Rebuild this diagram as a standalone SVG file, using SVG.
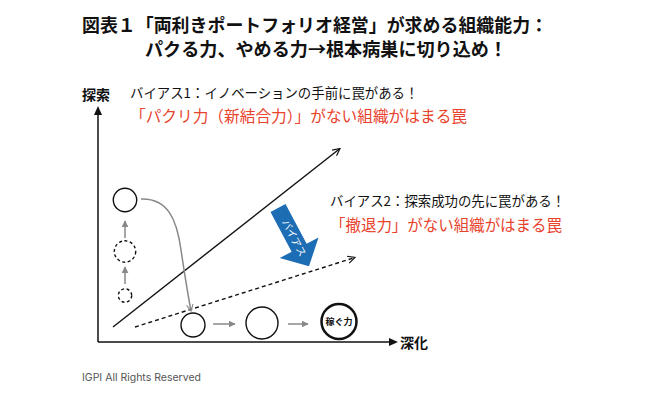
<svg xmlns="http://www.w3.org/2000/svg" width="650" height="400" viewBox="0 0 650 400">
<style>
.t{font-family:"Noto Sans CJK JP","Liberation Sans",sans-serif;}
.title{font-size:18.3px;font-weight:bold;fill:#111;}
.ax{font-size:14px;font-weight:bold;fill:#111;}
.lbl{font-size:13.4px;fill:#111;}
.red{font-size:16px;fill:#e8432d;}
.circ{fill:#fff;stroke:#111;stroke-width:1.4;}
.dash{stroke-dasharray:3 2.5;}
.gray{stroke:#888;stroke-width:1.5;fill:none;}
</style>
<defs>
<marker id="open" viewBox="0 0 10 10" refX="9" refY="5" markerWidth="9" markerHeight="9" markerUnits="userSpaceOnUse" orient="auto">
<path d="M1,1 L9,5 L1,9" fill="none" stroke="#111" stroke-width="1.3"/>
</marker>
<marker id="gopen" viewBox="0 0 10 10" refX="9" refY="5" markerWidth="8" markerHeight="8" markerUnits="userSpaceOnUse" orient="auto">
<path d="M1,1 L9,5 L1,9" fill="none" stroke="#888" stroke-width="1.4"/>
</marker>
<marker id="gtri" viewBox="0 0 10 10" refX="9" refY="5" markerWidth="7" markerHeight="7" markerUnits="userSpaceOnUse" orient="auto">
<path d="M0,0 L10,5 L0,10 Z" fill="#888"/>
</marker>
</defs>
<rect width="650" height="400" fill="#fff"/>
<g id="title" class="t title">
<text x="82" y="32" textLength="466" lengthAdjust="spacingAndGlyphs">図表１「両利きポートフォリオ経営」が求める組織能力：</text>
<text x="145" y="56" textLength="362" lengthAdjust="spacingAndGlyphs">パクる力、やめる力→根本病巣に切り込め！</text>
</g>
<g id="axes">
<line x1="98" y1="342" x2="98" y2="112" stroke="#111" stroke-width="1.5"/>
<path d="M98,106 L94,115 L102,115 Z" fill="#111"/>
<line x1="98" y1="342" x2="391" y2="342" stroke="#111" stroke-width="1.5"/>
<path d="M398,342 L389,338 L389,346 Z" fill="#111"/>
<text class="t ax" x="82" y="100">探索</text>
<text class="t ax" x="400" y="348">深化</text>
</g>
<g id="connectors">
<line x1="113" y1="327" x2="340" y2="148.5" stroke="#111" stroke-width="1.4" marker-end="url(#open)"/>
<line x1="135" y1="327" x2="355" y2="257.5" stroke="#111" stroke-width="1.4" stroke-dasharray="4 3" marker-end="url(#open)"/>
<path class="gray" d="M141,199 C168,198 177,220 181,250 Q187,290 191,311" marker-end="url(#gopen)"/>
<line class="gray" x1="125" y1="238" x2="125" y2="221" marker-end="url(#gtri)"/>
<line class="gray" x1="125" y1="284" x2="125" y2="267" marker-end="url(#gtri)"/>
<line class="gray" x1="213" y1="324" x2="235" y2="324" marker-end="url(#gtri)"/>
<line class="gray" x1="288" y1="324" x2="308" y2="324" marker-end="url(#gtri)"/>
</g>
<g id="node-top"><circle class="circ" cx="125" cy="200" r="11.7"/></g>
<g id="node-mid"><circle class="circ dash" cx="125" cy="251.5" r="10.7"/></g>
<g id="node-small"><circle class="circ dash" cx="125" cy="295.5" r="6.7"/></g>
<g id="node-b1"><circle class="circ" cx="193" cy="325" r="12"/></g>
<g id="node-b2"><circle class="circ" cx="262" cy="323" r="16"/></g>
<g id="node-kasegu">
<circle cx="339" cy="321.5" r="17.5" fill="#fff" stroke="#111" stroke-width="2.5"/>
<text class="t" x="339" y="325" font-size="9" font-weight="bold" text-anchor="middle" fill="#111">稼ぐ力</text>
</g>
<g id="bias-arrow" transform="translate(278,208) rotate(-28)">
<polygon points="-8.5,0 8.5,0 8.5,45 22,45 0,66 -22,45 -8.5,45" fill="#1d6db5"/>
<text class="t" x="34" y="3.5" transform="rotate(90)" font-size="10" fill="#fff" text-anchor="middle">バイアス</text>
</g>
<g id="bias1">
<text class="t lbl" x="130" y="98">バイアス1：イノベーションの手前に罠がある！</text>
<text class="t red" x="130" y="122" textLength="337" lengthAdjust="spacingAndGlyphs">「パクリ力（新結合力）」がない組織がはまる罠</text>
</g>
<g id="bias2">
<text class="t lbl" x="330" y="206">バイアス2：探索成功の先に罠がある！</text>
<text class="t red" x="330" y="231" textLength="232" lengthAdjust="spacingAndGlyphs">「撤退力」がない組織がはまる罠</text>
</g>
<text x="82" y="381" font-family="Inter,'Liberation Sans',sans-serif" font-size="10.5" fill="#555">IGPI All Rights Reserved</text>
</svg>
